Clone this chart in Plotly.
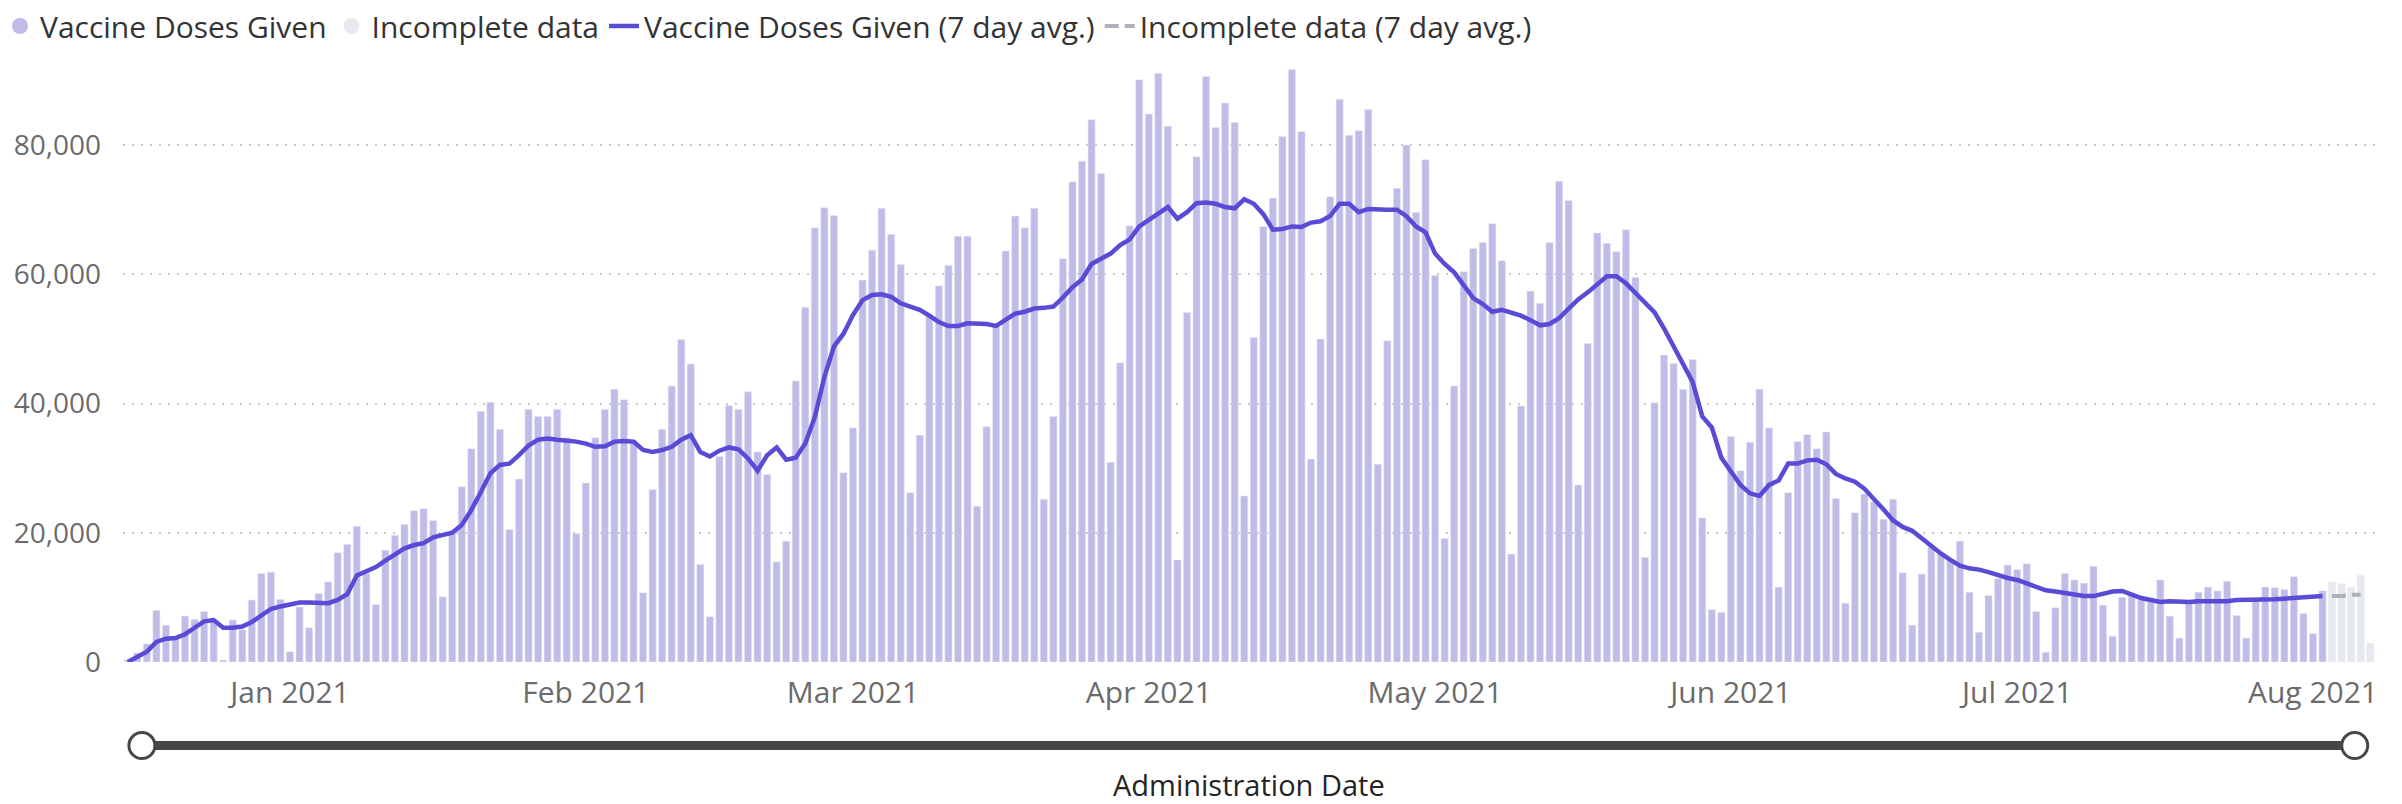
import pandas as pd
import plotly.graph_objects as go

# daily doses (thousands), 2020-12-15 .. 2021-08-02
doses_k = [
    0.3, 1.4, 2.8, 8.0, 5.7, 4.0, 7.1, 6.6, 7.8, 6.5,
    0.3, 6.5, 5.0, 9.6, 13.7, 13.9, 9.7, 1.6, 8.5, 5.3,
    10.6, 12.4, 16.9, 18.2, 21.0, 13.7, 8.9, 17.3, 19.6, 21.3,
    23.4, 23.7, 21.9, 10.1, 19.9, 27.1, 33.0, 38.8, 40.2, 36.0,
    20.5, 28.3, 39.1, 38.0, 38.0, 39.1, 34.7, 19.9, 27.7, 34.7,
    39.1, 42.2, 40.6, 34.3, 10.7, 26.7, 36.0, 42.7, 49.9, 46.1,
    15.1, 7.0, 31.8, 39.7, 39.1, 41.8, 32.5, 29.0, 15.5, 18.7,
    43.5, 54.9, 67.2, 70.3, 69.1, 29.3, 36.2, 59.1, 63.7, 70.2,
    66.2, 61.5, 26.2, 35.1, 53.6, 58.2, 61.4, 65.9, 65.9, 24.1,
    36.4, 52.0, 63.6, 69.0, 67.2, 70.2, 25.2, 38.0, 62.4, 74.3,
    77.5, 83.9, 75.6, 30.9, 46.3, 67.5, 90.1, 84.8, 91.1, 82.9,
    15.8, 54.1, 78.2, 90.6, 82.7, 86.5, 83.5, 25.7, 50.2, 67.4,
    71.8, 81.3, 91.7, 82.1, 31.4, 50.0, 72.0, 87.1, 81.5, 82.2,
    85.5, 30.6, 49.7, 73.3, 80.0, 69.6, 77.7, 59.8, 19.1, 42.7,
    60.4, 64.0, 64.9, 67.8, 62.1, 16.7, 39.6, 57.4, 55.5, 64.9,
    74.4, 71.4, 27.4, 49.3, 66.4, 64.8, 63.5, 66.9, 59.5, 16.2,
    40.1, 47.5, 46.2, 42.2, 46.8, 22.3, 8.1, 7.7, 34.9, 29.6,
    34.0, 42.2, 36.2, 11.6, 26.2, 34.1, 35.2, 33.0, 35.6, 25.3,
    9.1, 23.1, 26.0, 24.8, 22.1, 25.2, 13.8, 5.7, 13.6, 17.8,
    16.8, 15.8, 18.7, 10.8, 4.6, 10.3, 12.9, 15.0, 14.3, 15.2,
    7.8, 1.5, 8.4, 13.7, 12.7, 12.2, 14.8, 8.8, 4.0, 10.0,
    10.3, 10.0, 9.8, 12.7, 7.1, 3.7, 9.5, 10.8, 11.6, 11.0,
    12.5, 7.2, 3.7, 9.8, 11.6, 11.5, 11.2, 13.2, 7.5, 4.4,
    11.0,
]

# 7 day average line as drawn (thousands)
avg_k = [
    0.0, 0.9, 1.6, 3.1, 3.6, 3.7, 4.3, 5.3, 6.3, 6.5,
    5.3, 5.3, 5.5, 6.2, 7.2, 8.2, 8.6, 8.9, 9.2, 9.2,
    9.2, 9.1, 9.6, 10.5, 13.4, 14.1, 14.7, 15.7, 16.7, 17.6,
    18.1, 18.4, 19.3, 19.6, 20.0, 21.2, 23.5, 26.3, 29.2, 30.5,
    30.7, 32.0, 33.5, 34.4, 34.6, 34.4, 34.3, 34.1, 33.8, 33.3,
    33.4, 34.1, 34.2, 34.1, 32.8, 32.5, 32.8, 33.3, 34.4, 35.1,
    32.5, 31.8, 32.7, 33.2, 32.9, 31.5, 29.6, 32.0, 33.2, 31.3,
    31.6, 33.8, 37.9, 44.1, 48.8, 50.8, 53.7, 56.0, 56.8, 56.9,
    56.5, 55.5, 55.0, 54.5, 53.6, 52.6, 52.0, 52.0, 52.4, 52.3,
    52.3, 52.0, 52.9, 53.9, 54.2, 54.7, 54.8, 55.0, 56.4, 58.0,
    59.2, 61.6, 62.4, 63.2, 64.5, 65.4, 67.4, 68.4, 69.5, 70.4,
    68.6, 69.6, 71.0, 71.1, 70.9, 70.4, 70.2, 71.6, 70.9, 69.3,
    66.9, 67.0, 67.4, 67.3, 68.0, 68.2, 69.0, 70.9, 70.9, 69.6,
    70.1, 70.0, 70.0, 70.0, 69.0, 67.4, 66.5, 63.2, 61.6, 60.3,
    58.4, 56.3, 55.4, 54.2, 54.5, 54.0, 53.6, 52.9, 52.1, 52.3,
    53.2, 54.7, 56.1, 57.2, 58.4, 59.7, 59.7, 58.6, 57.1, 55.6,
    54.1, 51.6, 48.9, 46.2, 43.3, 38.0, 36.3, 31.6, 29.4, 27.4,
    26.1, 25.7, 27.4, 28.1, 30.7, 30.7, 31.2, 31.3, 30.6, 29.1,
    28.4, 27.9, 26.8, 25.3, 23.6, 21.9, 20.9, 20.3, 19.1, 17.8,
    16.8, 15.8, 14.9, 14.5, 14.3, 13.9, 13.4, 13.0, 12.7, 12.2,
    11.6, 11.1, 10.9, 10.7, 10.4, 10.2, 10.2, 10.5, 10.9, 11.0,
    10.5, 9.9, 9.6, 9.3, 9.4, 9.3, 9.3, 9.4, 9.4, 9.4,
    9.4, 9.6, 9.6, 9.6, 9.7, 9.7, 9.8, 9.9, 9.9, 10.0,
    10.2,
]

# incomplete data, 2021-08-03 .. 2021-08-07
incomplete_k = [12.4, 12.1, 11.5, 13.4, 2.9]
incomplete_avg_k = [10.2, 10.2, 10.4, 10.4]

dates = pd.date_range("2020-12-15", periods=len(doses_k), freq="D")
inc_dates = pd.date_range("2021-08-03", periods=len(incomplete_k), freq="D")

BAR = "#c1bbe8"
LINE = "#5a4bd6"
INC_BAR = "#e7e9ef"
INC_LINE = "#aeb1ba"
FONT = "Segoe UI, Open Sans, sans-serif"

fig = go.Figure()

fig.add_trace(go.Bar(x=dates, y=[v * 1000 for v in doses_k], marker_color=BAR,
                     showlegend=False, hoverinfo="skip"))
fig.add_trace(go.Bar(x=inc_dates, y=[v * 1000 for v in incomplete_k], marker_color=INC_BAR,
                     showlegend=False, hoverinfo="skip"))

# legend markers for the bars (round dots like the original)
fig.add_trace(go.Scatter(x=[None], y=[None], mode="markers", name="Vaccine Doses Given",
                         marker=dict(color=BAR, size=20, symbol="circle")))
fig.add_trace(go.Scatter(x=[None], y=[None], mode="markers", name="Incomplete data",
                         marker=dict(color=INC_BAR, size=20, symbol="circle")))

fig.add_trace(go.Scatter(x=dates, y=[v * 1000 for v in avg_k], mode="lines",
                         name="Vaccine Doses Given (7 day avg.)",
                         line=dict(color=LINE, width=4.5)))
fig.add_trace(go.Scatter(x=inc_dates[:len(incomplete_avg_k)], y=[v * 1000 for v in incomplete_avg_k],
                         mode="lines", name="Incomplete data (7 day avg.)",
                         line=dict(color=INC_LINE, width=4, dash="14px,6px")))

# slider decoration under the axis
slider_y = -0.139
fig.add_shape(type="line", xref="paper", yref="paper", x0=0.0084, x1=0.991, y0=slider_y, y1=slider_y,
              line=dict(color="#474747", width=9))
for xa in (0.0084, 0.991):
    fig.add_shape(type="circle", xref="paper", yref="paper", xsizemode="pixel", ysizemode="pixel",
                  xanchor=xa, yanchor=slider_y, x0=-13, x1=13, y0=-13, y1=13,
                  fillcolor="white", line=dict(color="#474747", width=3))

fig.add_annotation(text="Administration Date", xref="paper", yref="paper", x=0.5, y=-0.204,
                   xanchor="center", yanchor="middle",
                   showarrow=False, font=dict(family=FONT, size=29, color="#252423"))

fig.update_xaxes(
    type="date",
    range=["2020-12-14 12:00", "2021-08-07 12:00"],
    dtick="M1", tick0="2021-01-01", tickformat="%b %Y",
    showgrid=False, zeroline=False, showline=False, ticks="",
    ticklabelstandoff=10,
    tickfont=dict(family=FONT, size=30, color="#6b6b6b"),
)
fig.update_yaxes(
    range=[0, 93000],
    tickvals=[0, 20000, 40000, 60000, 80000],
    ticktext=["0", "20,000", "40,000", "60,000", "80,000"],
    showgrid=True, gridcolor="#c8c8c8", gridwidth=1.5, griddash="2px,7px",
    zeroline=False, showline=False, ticks="",
    ticklabelstandoff=21,
    tickfont=dict(family=FONT, size=28, color="#6b6b6b"),
)

fig.update_layout(
    width=2402, height=804,
    margin=dict(l=123, r=27, t=61, b=142, autoexpand=False),
    plot_bgcolor="white", paper_bgcolor="white",
    barmode="overlay", bargap=0.25,
    font=dict(family=FONT, color="#333333"),
    # legend box anchored at the figure's top-left corner
    legend=dict(orientation="h", x=-0.05462, y=1.1015, xref="paper", yref="paper",
                xanchor="left", yanchor="top", itemwidth=30, tracegroupgap=0,
                maxheight=200, valign="middle",
                font=dict(family=FONT, size=30, color="#333333"),
                bgcolor="rgba(0,0,0,0)"),
)

# drop the page's default body margin so the figure fills the window exactly
fig.write_html("out.html", config={"displayModeBar": False},
               post_script="document.body.style.margin='0px';document.body.style.overflow='hidden';")
